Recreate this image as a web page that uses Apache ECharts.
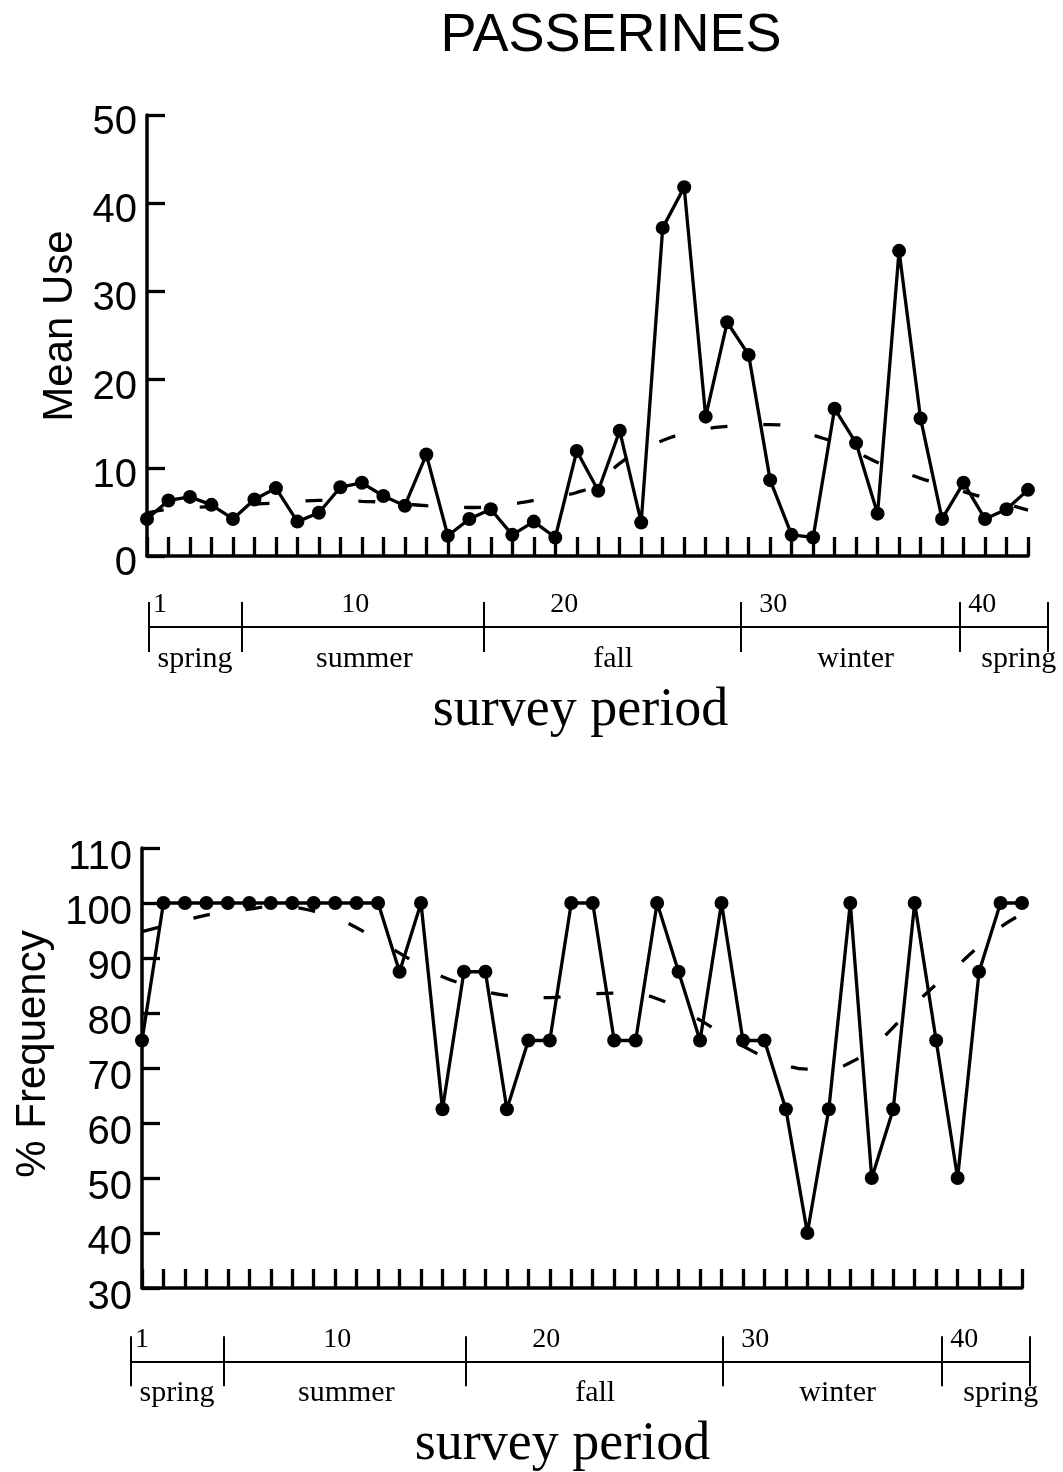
<!DOCTYPE html>
<html>
<head>
<meta charset="utf-8">
<title>PASSERINES</title>
<script src="https://cdn.jsdelivr.net/npm/echarts@6/dist/echarts.min.js"></script>
<style>
  html, body { margin: 0; padding: 0; background: #fff; }
  #chart { width: 1063px; height: 1472px; }
</style>
</head>
<body>
<div id="chart"></div>
<script>
// survey periods (x values)
var periods = [1,2,3,4,5,6,7,8,9,10,11,12,13,14,15,16,17,18,19,20,21,
               22,23,24,25,26,27,28,29,30,31,32,33,34,35,36,37,38,39,40,41,42];

// top panel: mean use per survey period and the smoothed trend
var meanUse = [4.2,6.3,6.7,5.8,4.2,6.4,7.7,3.9,4.9,7.8,
               8.3,6.8,5.7,11.5,2.3,4.2,5.3,2.4,3.9,2.1,
               11.9,7.4,14.2,3.8,37.2,41.8,15.8,26.5,22.8,8.6,
               2.4,2.1,16.7,12.8,4.8,34.6,15.6,4.2,8.3,4.2,
               5.3,7.5];
var meanUseTrend = [4.9,5.3,5.5,5.6,5.8,5.9,6.0,6.2,6.3,6.3,
                    6.2,6.1,5.9,5.7,5.6,5.5,5.6,5.9,6.3,6.8,
                    7.2,8.3,10.5,12.0,13.1,13.9,14.4,14.7,14.9,14.9,
                    14.6,13.7,12.9,11.8,10.6,9.7,8.8,8.1,7.3,6.6,
                    5.9,5.2];

// bottom panel: % frequency per survey period and the smoothed trend
var frequency = [75,100,100,100,100,100,100,100,100,100,
                 100,100,87.5,100,62.5,87.5,87.5,62.5,75,75,
                 100,100,75,75,100,87.5,75,100,75,75,
                 62.5,40,62.5,100,50,62.5,100,75,50,87.5,
                 100,100];
var frequencyTrend = [94.8,95.8,96.8,97.8,98.4,98.9,99.3,99.2,98.5,97.3,
                      95.5,93.2,90.9,88.6,86.6,85.2,83.9,83.2,82.8,82.8,
                      83.2,83.5,83.6,83.5,82.6,80.8,78.7,76.3,74.0,72.0,
                      70.5,69.8,69.8,71.0,73.6,77.4,81.5,85.2,88.6,92.2,
                      95.6,98.0];

// season bar under each panel
var periodMarks = [1, 10, 20, 30, 40];
var seasonBounds = [1, 5.43, 16.99, 29.3, 39.79, 44];
var seasonNames = ['spring', 'summer', 'fall', 'winter', 'spring'];
var seasonMids = [3.2, 11.3, 23.2, 34.8, 42.6];

var SANS = 'Liberation Sans, Arial, sans-serif';
var SERIF = 'Liberation Serif, Times New Roman, serif';

function pairs(xs, ys) {
    var out = [];
    for (var i = 0; i < xs.length; i++) out.push([xs[i], ys[i]]);
    return out;
}

// main x axis (ticks pointing up, no labels)
function mainX(gi) {
    return {
        gridIndex: gi, type: 'value', min: 1, max: 42, interval: 1,
        axisLine: { onZero: false, lineStyle: { color: '#000', width: 3.5 } },
        axisTick: { inside: true, length: 19, lineStyle: { color: '#000', width: 3.3 } },
        axisLabel: { show: false },
        splitLine: { show: false }
    };
}

// lh: line height of the tick labels, pushes them a bit under their tick like the original
function mainY(gi, min, max, name, gap, namePad, lh) {
    return {
        gridIndex: gi, type: 'value', min: min, max: max, interval: 10,
        name: name, nameLocation: 'middle', nameGap: gap,
        nameTextStyle: { fontFamily: SANS, fontSize: 42, color: '#000', padding: namePad },
        axisLine: { show: true, onZero: false, lineStyle: { color: '#000', width: 3.5 } },
        axisTick: { show: true, inside: true, length: 18, lineStyle: { color: '#000', width: 3.3 } },
        axisLabel: {
            fontFamily: SANS, fontSize: 40, color: '#000', margin: 10,
            verticalAlign: 'top', lineHeight: lh
        },
        splitLine: { show: false }
    };
}

// season bar: one axis with ticks/numbers above, one with ticks/names below
function seasonUpper(gi) {
    return {
        gridIndex: gi, type: 'value', min: 1, max: 44, position: 'bottom',
        axisLine: { onZero: false, lineStyle: { color: '#000', width: 2 } },
        axisTick: { inside: true, length: 25, customValues: seasonBounds, lineStyle: { color: '#000', width: 2 } },
        axisLabel: {
            inside: true, customValues: periodMarks, align: 'left', margin: 8,
            padding: [0, 0, 0, 4],
            fontFamily: SERIF, fontSize: 28, color: '#000',
            formatter: function (v) { return String(v); }
        },
        splitLine: { show: false }
    };
}
function seasonLower(gi) {
    return {
        gridIndex: gi, type: 'value', min: 1, max: 44, position: 'bottom',
        name: 'survey period', nameLocation: 'middle', nameGap: 57,
        nameTextStyle: { fontFamily: SERIF, fontSize: 54, color: '#000', padding: [0, 36, 0, 0] },
        axisLine: { show: false, onZero: false },
        axisTick: { inside: false, length: 25, customValues: seasonBounds, lineStyle: { color: '#000', width: 2 } },
        axisLabel: {
            customValues: seasonMids, margin: 17,
            fontFamily: SERIF, fontSize: 30, color: '#000',
            formatter: function (v) { return seasonNames[seasonMids.indexOf(v)]; }
        },
        splitLine: { show: false }
    };
}

function dataLine(xi, yi, values) {
    return {
        type: 'line', xAxisIndex: xi, yAxisIndex: yi,
        data: pairs(periods, values),
        symbol: 'circle', symbolSize: 14,
        lineStyle: { color: '#000', width: 3.3 },
        itemStyle: { color: '#000' },
        z: 3
    };
}
function trendLine(xi, yi, values) {
    return {
        type: 'line', xAxisIndex: xi, yAxisIndex: yi,
        data: pairs(periods, values),
        showSymbol: false, smooth: true,
        lineStyle: { color: '#000', width: 3.3, type: [17, 36] },
        z: 2
    };
}

var myChart = echarts.init(document.getElementById('chart'));
var option = {
    animation: false,
    backgroundColor: '#fff',
    title: {
        text: 'PASSERINES', left: 606, top: 4, textAlign: 'center',
        textStyle: { fontFamily: SANS, fontSize: 54, fontWeight: 'normal', color: '#000' }
    },
    grid: [
        { left: 147, right: 35, top: 115, height: 441 },
        { left: 142, right: 41, top: 848, height: 440 },
        { left: 149, right: 15, top: 626, height: 1 },
        { left: 131, right: 33, top: 1361, height: 1 }
    ],
    xAxis: [
        mainX(0), mainX(1),
        seasonUpper(2), seasonLower(2),
        seasonUpper(3), seasonLower(3)
    ],
    yAxis: [
        mainY(0, 0, 50, 'Mean Use', 66, [0, 0, 0, 19], 16),
        mainY(1, 30, 110, '% Frequency', 85, [0, 0, 0, 28], 20),
        { gridIndex: 2, type: 'value', show: false },
        { gridIndex: 3, type: 'value', show: false }
    ],
    series: [
        trendLine(0, 0, meanUseTrend),
        dataLine(0, 0, meanUse),
        trendLine(1, 1, frequencyTrend),
        dataLine(1, 1, frequency)
    ]
};
myChart.setOption(option);
</script>
</body>
</html>
